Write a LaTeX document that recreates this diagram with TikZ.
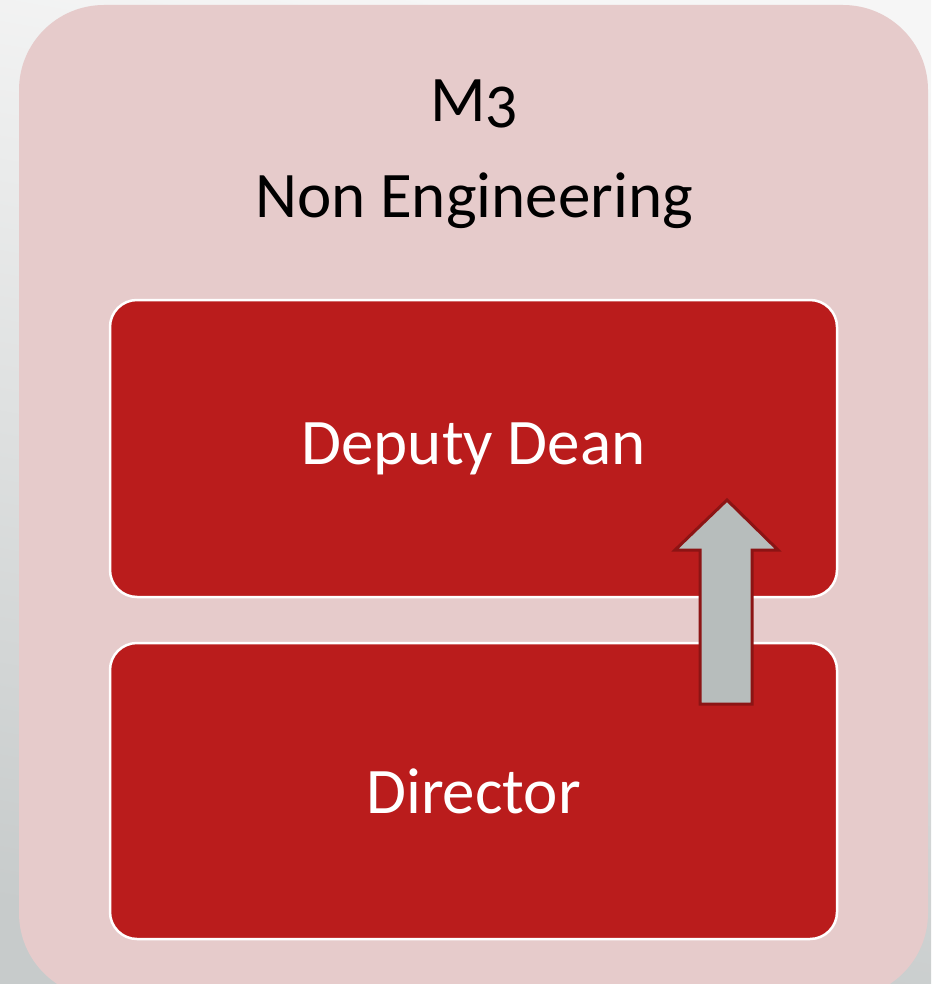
\documentclass[tikz,border=0pt]{standalone}
\usepackage{fontspec}
\setmainfont{Carlito}
\newfontfamily\oldnumfont[Numbers=OldStyle]{Carlito}
\definecolor{bgtop}{HTML}{F6F6F6}
\definecolor{bgbot}{HTML}{C7CBCB}
\definecolor{outerpink}{HTML}{E6CBCB}
\definecolor{boxred}{HTML}{BA1C1C}
\definecolor{arrowgray}{HTML}{B7BDBC}
\definecolor{arrowedge}{HTML}{8C1414}
\tikzset{
  outerbox/.style={fill=outerpink, draw=none, rounded corners=85pt, minimum width=909pt, minimum height=993pt, inner sep=0pt},
  redbox/.style={fill=boxred, draw=white, line width=2.5pt, rounded corners=27pt, minimum width=727pt, inner sep=0pt, text=white, font=\fontsize{65}{70}\selectfont},
  titletext/.style={text=black, font=\fontsize{65}{70}\selectfont, inner sep=0pt, anchor=base},
  blockarrow/.style={fill=arrowgray, draw=arrowedge, line width=3pt, line join=miter}
}
\begin{document}
\begin{tikzpicture}[x=1pt,y=-1pt]
\useasboundingbox (0,0) rectangle (931,984);
\shade[top color=bgtop, bottom color=bgbot, shading angle=-10] (0,0) rectangle (931,984);
\node[outerbox] (outer) at (473.5,501.5) {};
\node[titletext] (m3) at (474.5,122) {\oldnumfont M3};
\node[titletext] (dept) at (474,218) {Non Engineering};
\node[redbox, minimum height=297pt] (deputy) at (473.5,448.5) {Deputy Dean};
\node[redbox, minimum height=296pt] (director) at (473.5,791) {Director};
\draw[blockarrow] (700,704) -- (752,704) -- (752,550) -- (778,550) -- (727,500) -- (675,550) -- (700,550) -- cycle;
\end{tikzpicture}
\end{document}
